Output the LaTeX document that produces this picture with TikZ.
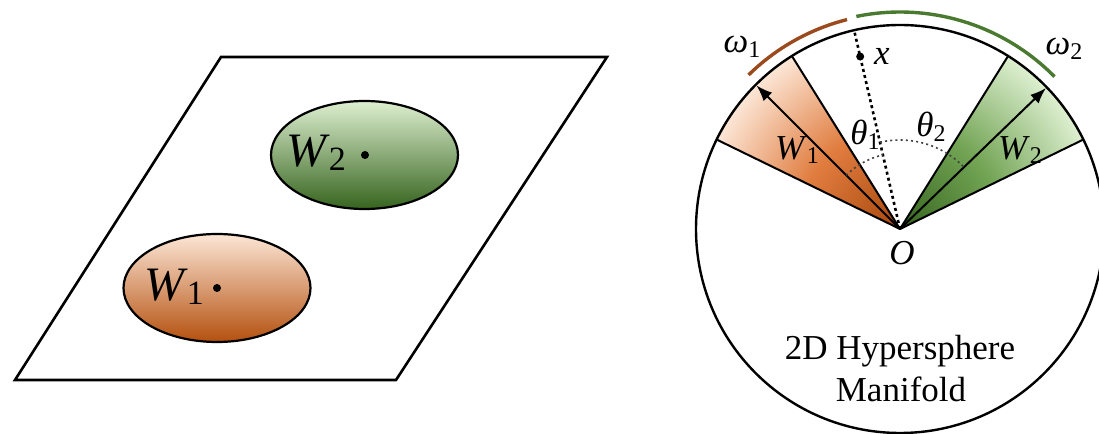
\documentclass[tikz,border=0pt]{standalone}
\usepackage{fontspec}
\setmainfont{Liberation Serif}
\usetikzlibrary{arrows.meta,shapes.geometric}
\definecolor{ordark}{HTML}{A8460C}
\definecolor{orlight}{HTML}{FCE6D6}
\definecolor{ormid}{HTML}{E8894A}
\definecolor{orbot}{HTML}{B4500E}
\definecolor{orsec}{HTML}{E07C3E}
\definecolor{grdark}{HTML}{36641E}
\definecolor{grlight}{HTML}{DDEFD0}
\definecolor{grmid}{HTML}{86B46C}
\definecolor{grsec}{HTML}{72A454}
\definecolor{brarc}{HTML}{9A4A1C}
\definecolor{grarc}{HTML}{4A7A30}
\pgfdeclareradialshading{orsh}{\pgfpoint{0bp}{0bp}}{color(0bp)=(ordark); color(12bp)=(orsec); color(24bp)=(orlight); color(50bp)=(orlight)}
\pgfdeclareradialshading{grsh}{\pgfpoint{0bp}{0bp}}{color(0bp)=(grdark); color(12bp)=(grsec); color(24bp)=(grlight); color(50bp)=(grlight)}
\newcommand{\bigW}[1]{\textit{W}\kern-0.02em\raisebox{-0.2ex}{\fontsize{17}{18}\selectfont #1}}
\newcommand{\smW}[2]{\textit{#1}\raisebox{-0.3ex}{\fontsize{12}{13}\selectfont #2}}
\begin{document}
\begin{tikzpicture}[x=0.5pt,y=0.5pt,
  plane/.style={draw=black,line width=1.3pt,line join=miter},
  blob/.style={ellipse,draw=black,line width=1.1pt,minimum width=93.5pt,minimum height=54pt,inner sep=0pt},
  bigtxt/.style={font=\fontsize{24}{28}\selectfont,inner sep=0pt},
  smtxt/.style={font=\fontsize{17.5}{21}\selectfont,inner sep=0pt},
  edge/.style={draw=black,line width=1pt,line join=round},
  vec/.style={draw=black,line width=1pt,-{Latex[length=8pt,width=6pt]}},
  dotline/.style={line width=1.3pt,dash pattern=on 1.5pt off 1.6pt},
  anglearc/.style={line width=0.8pt,dash pattern=on 1pt off 1.6pt,draw=black!75}]
\useasboundingbox (0,0) rectangle (1099,434);
% ---- left: plane with two clusters
\coordinate (p1) at (15,54);
\coordinate (p2) at (396,54);
\coordinate (p3) at (607,377);
\coordinate (p4) at (221,377);
\draw[plane] (p1) -- (p2) -- (p3) -- (p4) -- cycle;
\node[blob,top color=grlight,middle color=grmid,bottom color=grdark] (e2) at (364.5,279) {};
\node[blob,top color=orlight,middle color=ormid,bottom color=orbot] (e1) at (217,146) {};
\fill (365,279) circle (4);
\fill (217,146) circle (4);
\node[bigtxt] (w2big) at (316,281) {\bigW{2}};
\node[bigtxt] (w1big) at (174,147) {\bigW{1}};
% ---- right: hypersphere
\begin{scope}[shift={(900,205)}]
  \coordinate (O) at (0,0);
  \begin{scope}
    \clip (O) -- (154:204) arc[start angle=154,end angle=122,radius=204] -- cycle;
    \shade[shading=orsh] (O) circle (212);
  \end{scope}
  \begin{scope}
    \clip (O) -- (26:204) arc[start angle=26,end angle=58,radius=204] -- cycle;
    \shade[shading=grsh] (O) circle (212);
  \end{scope}
  \draw[line width=1.2pt] (O) circle (204);
  \draw[edge] (154:204) -- (O) -- (122:204);
  \draw[edge] (26:204) -- (O) -- (58:204);
  \coordinate (w1tip) at (135:203);
  \coordinate (w2tip) at (44:203);
  \draw[vec] (O) -- (w1tip);
  \draw[vec] (O) -- (w2tip);
  \coordinate (rim) at (103:204);
  \coordinate (xp) at (103:177);
  \draw[dotline] (O) -- (rim);
  \fill (xp) circle (4);
  \draw[anglearc] (135:76) arc[start angle=135,end angle=103,radius=76];
  \draw[anglearc] (103:89) arc[start angle=103,end angle=44,radius=89];
  \draw[brarc,line width=1.7pt] (134.5:216) arc[start angle=134.5,end angle=104.2,radius=216];
  \draw[grarc,line width=1.7pt] (101.6:217) arc[start angle=101.6,end angle=44.6,radius=217];
\end{scope}
\node[smtxt] (xl) at (882,378) {\textit{x}};
\node[smtxt] (ol) at (902,181) {\textit{O}};
\node[smtxt] (th1) at (865,299) {\smW{θ}{1}};
\node[smtxt] (th2) at (931,307) {\smW{θ}{2}};
\node[smtxt] (w1s) at (797,284) {\smW{W}{1}};
\node[smtxt] (w2s) at (1020,284) {\smW{W}{2}};
\node[smtxt] (om1) at (742,387) {\smW{ω}{1}};
\node[smtxt] (om2) at (1064,385) {\smW{ω}{2}};
\node[smtxt,anchor=base] (t1) at (900,74) {2D Hypersphere};
\node[smtxt,anchor=base] (t2) at (901,32) {Manifold};
\end{tikzpicture}
\end{document}
